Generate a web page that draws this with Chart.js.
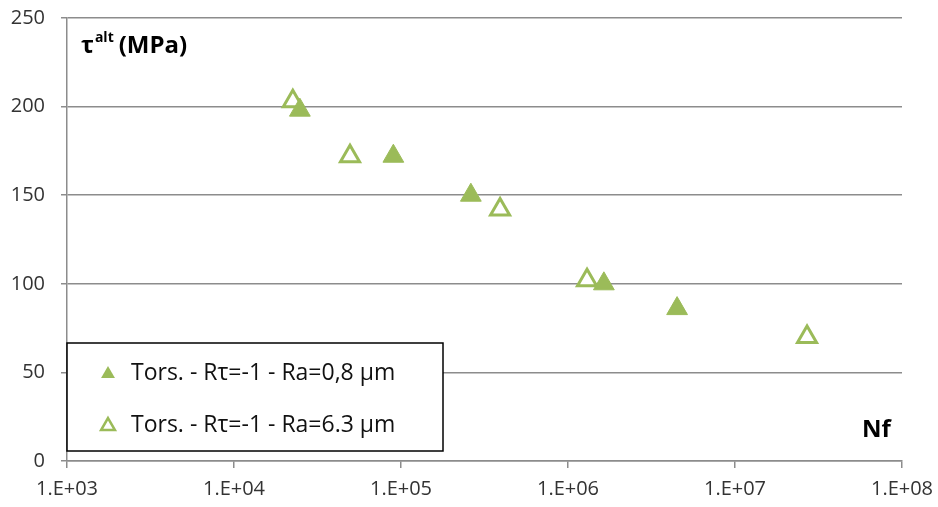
<!DOCTYPE html>
<html>
<head>
<meta charset="utf-8">
<script src="https://cdn.jsdelivr.net/npm/chart.js@4.4.1/dist/chart.umd.min.js"></script>
<style>
    html, body { margin: 0; padding: 0; background: #fff; }
    #wrap { width: 938px; height: 507px; position: relative; }
</style>
</head>
<body>
<div id="wrap"><canvas id="chart" width="938" height="507"></canvas></div>
<script>
const FONT = "'Open Sans', sans-serif";
const GREEN = "#9bbb59";
const GRID = "#8c8c8c";

// Ra = 0,8 um (filled triangles)
const smoothCycles = [2.48e4, 9.0e4, 2.62e5, 1.64e6, 4.5e6];
const smoothTau = [198, 172, 150, 100, 86];
// Ra = 6.3 um (open triangles)
const roughCycles = [2.25e4, 4.95e4, 3.92e5, 1.3e6, 2.7e7];
const roughTau = [203, 172, 142, 102, 70];

const seriesLabels = ["Tors. - R\u03c4=-1 - Ra=0,8 \u00b5m", "Tors. - R\u03c4=-1 - Ra=6.3 \u00b5m"];
const xTickValues = [1e3, 1e4, 1e5, 1e6, 1e7, 1e8];
const yTickValues = [0, 50, 100, 150, 200, 250];

function toPoints(xs, ys) {
    return xs.map((x, i) => ({ x, y: ys[i] }));
}

function formatPower(value) {
    const exp = Math.round(Math.log10(value));
    return "1.E+" + String(exp).padStart(2, "0");
}

function drawTriangle(ctx, cx, cy, r, filled) {
    ctx.beginPath();
    ctx.moveTo(cx, cy - r);
    ctx.lineTo(cx + r * 0.866, cy + r * 0.5);
    ctx.lineTo(cx - r * 0.866, cy + r * 0.5);
    ctx.closePath();
    if (filled) {
        ctx.fillStyle = GREEN;
        ctx.fill();
    } else {
        ctx.fillStyle = "#fff";
        ctx.fill();
        ctx.strokeStyle = GREEN;
        ctx.lineWidth = 2.5;
        ctx.stroke();
    }
}

const overlay = {
    id: "overlay",
    afterDraw(chart) {
        const ctx = chart.ctx;
        ctx.save();
        // axis titles
        ctx.fillStyle = "#000";
        ctx.textBaseline = "alphabetic";
        ctx.textAlign = "left";
        let x = 81;
        ctx.font = "bold 24px " + FONT;
        ctx.fillText("\u03c4", x, 53);
        x += ctx.measureText("\u03c4").width + 1;
        ctx.font = "bold 14px " + FONT;
        ctx.fillText("alt", x, 42);
        x += ctx.measureText("alt").width + 5;
        ctx.font = "bold 24px " + FONT;
        ctx.fillText("(MPa)", x, 53);
        ctx.fillText("Nf", 862, 437);

        // legend box
        ctx.fillStyle = "#fff";
        ctx.fillRect(67, 343, 376, 108);
        ctx.strokeStyle = "#000";
        ctx.lineWidth = 1.5;
        ctx.strokeRect(67, 343, 376, 108);
        const rows = [373, 425];
        rows.forEach((y, i) => {
            drawTriangle(ctx, 108, y + 1, 8, i === 0);
            ctx.fillStyle = "#111";
            ctx.font = "23px " + FONT;
            ctx.textBaseline = "middle";
            ctx.fillText(seriesLabels[i], 131, y);
        });
        ctx.restore();
    },
};

function noPad(scale) {
    scale.paddingTop = 0;
    scale.paddingBottom = 0;
    scale.paddingLeft = 0;
    scale.paddingRight = 0;
}

new Chart(document.getElementById("chart"), {
    type: "scatter",
    data: {
        datasets: [
            {
                label: seriesLabels[0],
                data: toPoints(smoothCycles, smoothTau),
                pointStyle: "triangle",
                pointRadius: 12,
                pointHoverRadius: 12,
                backgroundColor: GREEN,
                borderColor: GREEN,
                borderWidth: 1,
            },
            {
                label: seriesLabels[1],
                data: toPoints(roughCycles, roughTau),
                pointStyle: "triangle",
                pointRadius: 11,
                pointHoverRadius: 11,
                backgroundColor: "#fff",
                borderColor: GREEN,
                borderWidth: 3,
            },
        ],
    },
    options: {
        responsive: false,
        animation: false,
        layout: { padding: { top: 18, right: 36, left: 0, bottom: 0 } },
        plugins: {
            legend: { display: false },
            tooltip: { enabled: false },
        },
        scales: {
            x: {
                type: "logarithmic",
                min: 1e3,
                max: 1e8,
                afterBuildTicks: (scale) => {
                    scale.ticks = xTickValues.map((value) => ({ value }));
                },
                afterFit: (scale) => { scale.height = 46; noPad(scale); },
                grid: {
                    drawOnChartArea: false,
                    drawTicks: true,
                    tickLength: 7,
                    color: GRID,
                    lineWidth: 1.5,
                },
                border: { display: true, color: GRID, width: 1.5 },
                ticks: {
                    callback: (value) => formatPower(value),
                    color: "#333",
                    font: { family: FONT, size: 20 },
                    padding: 9,
                    maxRotation: 0,
                    autoSkip: false,
                },
            },
            y: {
                min: 0,
                max: 250,
                afterBuildTicks: (scale) => {
                    scale.ticks = yTickValues.map((value) => ({ value }));
                },
                afterFit: (scale) => { scale.width = 67; noPad(scale); },
                grid: {
                    color: GRID,
                    lineWidth: 1.5,
                    tickLength: 6,
                },
                border: { display: true, color: GRID, width: 1.5 },
                ticks: {
                    color: "#333",
                    font: { family: FONT, size: 20 },
                    padding: 16,
                },
            },
        },
    },
    plugins: [overlay],
});
</script>
</body>
</html>
